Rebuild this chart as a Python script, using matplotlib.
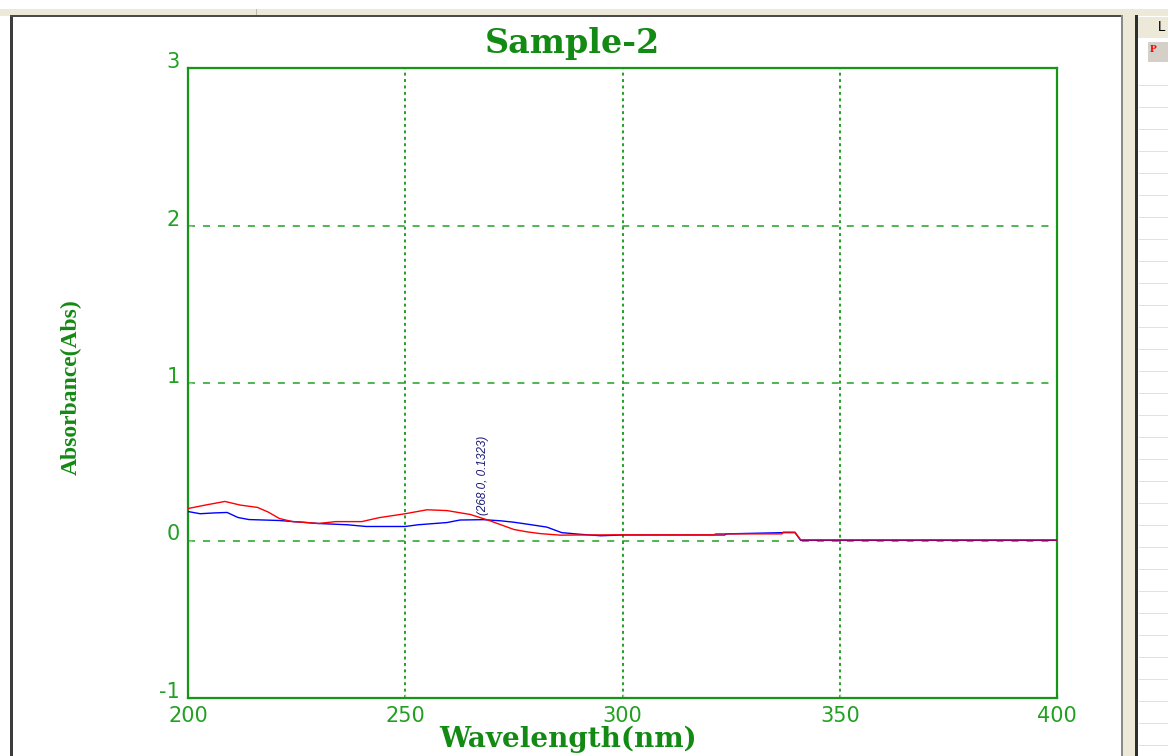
import matplotlib
matplotlib.use("Agg")
import matplotlib.pyplot as plt
from matplotlib.patches import Rectangle
from matplotlib import font_manager as fm

# spectra (wavelength in nm, absorbance in Abs)
wl_red = [200, 204, 208.5, 212, 216, 218.5, 221, 224, 227, 230, 234, 240, 244,
          250, 255, 259.6, 265, 269, 272, 275, 278, 281, 285.6, 290, 300, 310,
          321, 321.5, 336.7, 337, 339.7, 341, 350, 400]
abs_red = [0.203, 0.225, 0.248, 0.225, 0.21, 0.18, 0.14, 0.12, 0.115, 0.108, 0.12,
           0.12, 0.145, 0.17, 0.195, 0.19, 0.165, 0.13, 0.10, 0.07, 0.055, 0.044,
           0.034, 0.035, 0.036, 0.036, 0.036, 0.042, 0.042, 0.053, 0.053, 0.004,
           0.004, 0.004]

wl_blue = [200, 202.8, 206, 209, 211.5, 214, 221, 230, 236.6, 241, 250, 253,
           259.6, 262.6, 268, 272, 275, 279, 282.6, 286, 290, 295, 300, 320,
           323.5, 324, 337, 339.7, 341, 400]
abs_blue = [0.184, 0.17, 0.175, 0.178, 0.146, 0.133, 0.127, 0.108, 0.10, 0.089,
            0.089, 0.10, 0.114, 0.13, 0.1323, 0.125, 0.116, 0.10, 0.085, 0.05,
            0.04, 0.03, 0.035, 0.035, 0.035, 0.042, 0.05, 0.05, 0.001, 0.001]

peak_wl = 268.0
peak_abs = 0.1323

x_ticks = [200, 250, 300, 350, 400]
y_ticks = [-1, 0, 1, 2, 3]

plt.rcParams["axes.unicode_minus"] = False

names = {f.name for f in fm.fontManager.ttflist}
narrow = "Liberation Sans Narrow" if "Liberation Sans Narrow" in names else "Liberation Sans"

W, H = 1168, 756
fig = plt.figure(figsize=(W / 100, H / 100), dpi=100)
fig.patch.set_facecolor("white")


def box(x, y, w, h, color):
    # window chrome, given in screen pixels from the top-left corner
    fig.add_artist(Rectangle((x / W, 1 - (y + h) / H), w / W, h / H,
                             transform=fig.transFigure, facecolor=color,
                             edgecolor="none", zorder=-5))


box(0, 9, W, 7, "#ECE9D8")
box(256, 9, 1, 7, "#BDB9A6")
box(10, 15, 3, H - 15, "#3c3c3c")
box(10, 15, 1114, 2, "#4a4a4a")
box(1121, 15, 2, H - 15, "#8a8a8a")
box(1123, 15, 12, H - 15, "#ECE9D8")
box(1135, 15, 3, H - 15, "#2e2e2e")
box(1138, 17, 30, 21, "#ECE9D8")
box(1148, 42, 20, 20, "#D4D0C8")
for k in range(31):
    yy = 85 + 22 * k
    if yy < H:
        box(1139, yy, 29, 1, "#E6E2CC")
fig.text(1158 / W, 1 - 27 / H, "L", fontsize=10, family="Liberation Sans",
         color="black", va="center")
fig.text(1150 / W, 1 - 50 / H, "P", fontsize=8, family="Liberation Serif",
         color="red", va="center", fontweight="bold")

ax = fig.add_axes([188 / W, 1 - 698 / H, 869 / W, 630 / H])
ax.set_facecolor("white")

ax.plot(wl_blue, abs_blue, color="#0000ff", lw=1.0, zorder=3)
ax.plot(wl_red, abs_red, color="#ff0000", lw=1.0, zorder=4)

ax.annotate(f"({peak_wl:.1f}, {peak_abs:.4f})", xy=(peak_wl, peak_abs),
            xytext=(0, 3), textcoords="offset points", rotation=90,
            ha="center", va="bottom", fontsize=8.5, fontstyle="italic",
            family=narrow, color="#1a1a78", zorder=5)

ax.set_xlim(200, 400)
ax.set_ylim(-1, 3)
ax.set_xticks(x_ticks)
ax.set_yticks(y_ticks)

green = "#169616"
ax.set_axisbelow(True)
ax.xaxis.grid(True, color="#22a022", linestyle=(0, (1.5, 1.8)), linewidth=1.4)
ax.yaxis.grid(True, color="#22a022", linestyle=(0, (4.6, 5.2)), linewidth=1.1)
for s in ax.spines.values():
    s.set_color(green)
    s.set_linewidth(1.6)

ax.tick_params(direction="in", length=3, width=1, color="#a8c4a8",
               labelcolor="#22a022", labelsize=15)
ax.tick_params(axis="x", pad=6)
ax.tick_params(axis="y", pad=5.8)
for lbl in ax.get_xticklabels() + ax.get_yticklabels():
    lbl.set_family("DejaVu Sans")
for lbl in ax.get_yticklabels():
    lbl.set_verticalalignment("baseline")

ax.set_title("Sample-2", x=0.442, pad=11, fontsize=24, fontweight="bold",
             family="DejaVu Serif", color="#138a13")
ax.set_xlabel("Wavelength(nm)", fontsize=20, fontweight="bold",
              family="DejaVu Serif", color="#138a13")
ax.xaxis.set_label_coords(0.437, -0.044)
ax.set_ylabel("Absorbance(Abs)", fontsize=17, fontweight="bold",
              family="Liberation Serif", color="#138a13")
ax.yaxis.set_label_coords(-0.122, 0.494)

fig.savefig("out.png", dpi=100)
